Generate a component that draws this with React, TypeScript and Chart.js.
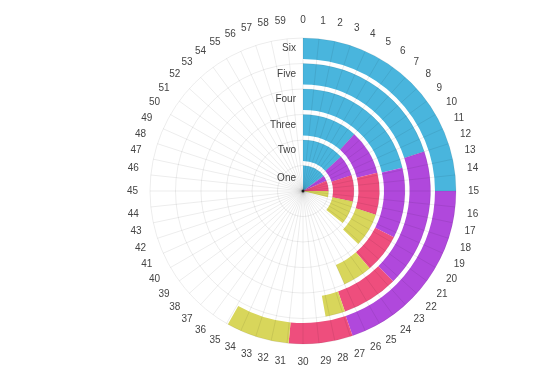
import React, { useEffect, useRef } from "react";
import { Chart, registerables } from "chart.js";

Chart.register(...registerables);

// Angular tick labels (minutes around the dial)
const minuteLabels = [
  "0", "1", "2", "3", "4", "5", "6", "7", "8", "9",
  "10", "11", "12", "13", "14", "15", "16", "17", "18", "19",
  "20", "21", "22", "23", "24", "25", "26", "27", "28", "29",
  "30", "31", "32", "33", "34", "35", "36", "37", "38", "39",
  "40", "41", "42", "43", "44", "45", "46", "47", "48", "49",
  "50", "51", "52", "53", "54", "55", "56", "57", "58", "59",
];
const dialTotal = 60;

// Categories, from the innermost ring to the outermost
const categories = ["One", "Two", "Three", "Four", "Five", "Six"];

// Stacked series values (length along the dial, per category)
const cyanValues = [9, 8, 7, 12.8, 12, 15];
const purpleValues = [2, 4, 5.7, 6.7, 10.5, 11.85];
const pinkValues = [4, 5, 5.3, 3.7, 4.3, 4.05];
const yellowValues = [2.4, 4.5, 4.3, 2.8, 1.5, 4];

const seriesColors = ["#49b5dd", "#b048dc", "#ee4e7d", "#d8d65b"];

const FONT = '"Liberation Sans", Arial, Helvetica, sans-serif';

const ringLabelPlugin = {
  id: "ringLabels",
  afterDatasetsDraw(chart: any) {
    const ctx = chart.ctx;
    ctx.save();
    ctx.font = `10px ${FONT}`;
    ctx.fillStyle = "#444";
    ctx.textAlign = "right";
    ctx.textBaseline = "middle";
    let cx = 0;
    let cy = 0;
    chart.data.datasets.forEach((ds: any, di: number) => {
      if (!ds.isRing) return;
      const arc = chart.getDatasetMeta(di).data[0];
      const p = arc.getProps(["x", "y", "innerRadius", "outerRadius"], true);
      cx = p.x;
      cy = p.y;
      ctx.fillText(ds.label, p.x - 7, p.y - (p.innerRadius + p.outerRadius) / 2);
    });
    ctx.fillStyle = "#555";
    ctx.beginPath();
    ctx.arc(cx, cy, 1.5, 0, Math.PI * 2);
    ctx.fill();
    ctx.restore();
  },
};

export default function App() {
  const gridRef = useRef<HTMLCanvasElement | null>(null);
  const barRef = useRef<HTMLCanvasElement | null>(null);

  useEffect(() => {
    if (!gridRef.current || !barRef.current) return;

    const grid = new Chart(gridRef.current, {
      type: "radar",
      data: {
        labels: minuteLabels,
        datasets: [{ data: [], pointRadius: 0, borderWidth: 0 }],
      },
      options: {
        responsive: false,
        animation: false,
        events: [],
        layout: { padding: { left: 93, right: 42, top: 14, bottom: 22 } },
        plugins: { legend: { display: false }, tooltip: { enabled: false } },
        scales: {
          r: {
            min: 0,
            max: categories.length,
            ticks: { display: false, stepSize: 1 },
            grid: { circular: true, color: "rgba(0,0,0,0.075)", lineWidth: 1 },
            angleLines: { display: true, color: "rgba(0,0,0,0.075)", lineWidth: 1 },
            pointLabels: {
              display: true,
              padding: 12,
              color: "#444",
              font: { size: 10, family: FONT },
            },
          },
        },
      },
    });

    const rs: any = grid.scales.r;
    const xc = rs.xCenter;
    const yc = rs.yCenter;
    const R = rs.drawingArea;
    const S = 170;

    const datasets: any[] = [];
    for (let i = categories.length - 1; i >= 0; i--) {
      const vals = [cyanValues[i], purpleValues[i], pinkValues[i], yellowValues[i]];
      const used = vals.reduce((a, b) => a + b, 0);
      datasets.push({
        label: categories[i],
        isRing: true,
        data: [...vals, dialTotal - used],
        backgroundColor: [...seriesColors, "rgba(0,0,0,0)"],
        borderWidth: 0,
        weight: i === 0 ? 25.5 : 21,
      });
      if (i > 0) {
        datasets.push({
          label: "",
          isRing: false,
          data: [dialTotal],
          backgroundColor: ["rgba(0,0,0,0)"],
          borderWidth: 0,
          weight: 4.5,
        });
      }
    }

    const bars = new Chart(barRef.current, {
      type: "doughnut",
      data: { labels: ["Cyan", "Purple", "Pink", "Yellow", ""], datasets },
      options: {
        responsive: false,
        animation: false,
        events: [],
        cutout: 0,
        radius: R,
        rotation: 0,
        circumference: 360,
        layout: {
          padding: { left: xc - S, right: 555 - xc - S, top: yc - S, bottom: 390 - yc - S },
        },
        plugins: { legend: { display: false }, tooltip: { enabled: false } },
      } as any,
      plugins: [ringLabelPlugin],
    });

    return () => {
      bars.destroy();
      grid.destroy();
    };
  }, []);

  return (
    <div style={{ position: "absolute", left: 0, top: 0, width: 555, height: 390, background: "#fff" }}>
      <canvas ref={barRef} width={555} height={390} style={{ position: "absolute", left: 0, top: 0 }} />
      <canvas ref={gridRef} width={555} height={390} style={{ position: "absolute", left: 0, top: 0 }} />
    </div>
  );
}
